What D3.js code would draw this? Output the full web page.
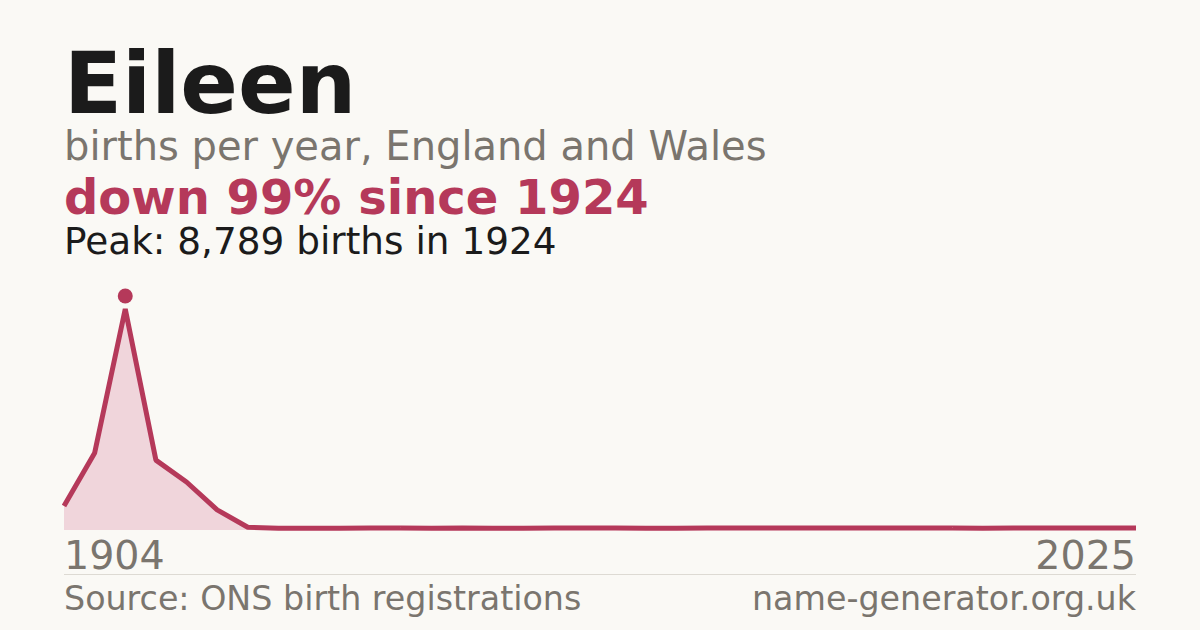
<!DOCTYPE html>
<html>
<head>
<meta charset="utf-8">
<script src="https://cdn.jsdelivr.net/npm/d3@7"></script>
<style>
  html, body { margin: 0; padding: 0; background: #faf9f5; }
  svg { display: block; font-family: "DejaVu Sans", sans-serif; }
</style>
</head>
<body>
<div id="chart"></div>
<script>
const width = 1200, height = 630;

// decade samples, then yearly
const years = [1904, 1914, 1924, 1934, 1944, 1954, 1964, 1974, 1984, 1994,
  2000, 2001, 2002, 2003, 2004, 2005, 2006, 2007, 2008, 2009, 2010, 2011, 2012,
  2013, 2014, 2015, 2016, 2017, 2018, 2019, 2020, 2021, 2022, 2023, 2024, 2025];
const births = [955, 3060, 8789, 2780, 1910, 800, 110, 70, 70, 70,
  80, 75, 70, 80, 70, 70, 75, 80, 80, 70, 70, 75, 80, 80,
  80, 80, 80, 80, 80, 75, 70, 80, 80, 80, 80, 80];
const axisLabels = ["1904", "2025"];

const red = "#b5395a";
const grey = "#7a756e";

const svg = d3.create("svg")
  .attr("width", width)
  .attr("height", height)
  .attr("viewBox", [0, 0, width, height]);

svg.append("rect").attr("width", width).attr("height", height).attr("fill", "#faf9f5");

// headings
svg.append("text").attr("x", 64).attr("y", 113)
  .attr("font-size", 85).attr("font-weight", "bold").attr("fill", "#1b1b1b")
  .text("Eileen");
svg.append("text").attr("x", 64).attr("y", 160)
  .attr("font-size", 40).attr("fill", grey)
  .text("births per year, England and Wales");
svg.append("text").attr("x", 64).attr("y", 214)
  .attr("font-size", 48).attr("font-weight", "bold").attr("fill", red)
  .text("down 99% since 1924");
svg.append("text").attr("x", 64).attr("y", 254)
  .attr("font-size", 37.4).attr("fill", "#1b1b1b")
  .text("Peak: 8,789 births in 1924");

// scales: points are evenly spaced by index
const x = d3.scaleLinear().domain([0, years.length - 1]).range([64, 1136]);
const y = d3.scaleLinear().domain([0, d3.max(births)]).range([530, 309]);

const area = d3.area()
  .x((d, i) => x(i))
  .y0(y(0))
  .y1(d => y(d));
const line = d3.line()
  .x((d, i) => x(i))
  .y(d => y(d));

svg.append("path").datum(births)
  .attr("d", area)
  .attr("fill", "#f0d5db");

svg.append("path").datum(births)
  .attr("d", line)
  .attr("fill", "none")
  .attr("stroke", red)
  .attr("stroke-width", 5)
  .attr("stroke-linejoin", "bevel");

// peak marker
const peakIdx = births.indexOf(d3.max(births));
svg.append("circle")
  .attr("cx", x(peakIdx))
  .attr("cy", y(births[peakIdx]) - 13)
  .attr("r", 7.5)
  .attr("fill", red);

// axis end labels
svg.append("text").attr("x", 64).attr("y", 569)
  .attr("font-size", 39.6).attr("fill", grey)
  .text(axisLabels[0]);
svg.append("text").attr("x", 1136).attr("y", 569)
  .attr("font-size", 39.6).attr("fill", grey).attr("text-anchor", "end")
  .text(axisLabels[1]);

svg.append("line")
  .attr("x1", 64).attr("x2", 1136)
  .attr("y1", 574.5).attr("y2", 574.5)
  .attr("stroke", "#dddad3").attr("stroke-width", 1);

// footer
svg.append("text").attr("x", 64).attr("y", 610)
  .attr("font-size", 33.3).attr("fill", grey)
  .text("Source: ONS birth registrations");
svg.append("text").attr("x", 1136).attr("y", 610)
  .attr("font-size", 33.3).attr("fill", grey).attr("text-anchor", "end")
  .text("name-generator.org.uk");

d3.select("#chart").append(() => svg.node());
</script>
</body>
</html>
